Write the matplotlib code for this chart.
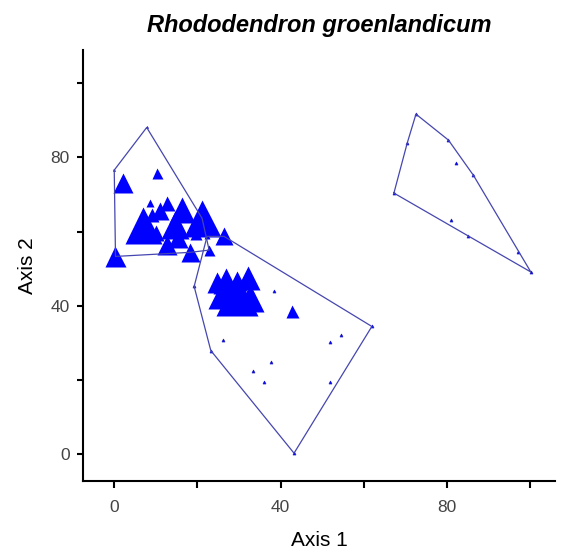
import matplotlib

matplotlib.use("Agg")
import matplotlib.pyplot as plt
import numpy as np

# ordination scores (Axis 1, Axis 2) and abundance per plot, by group
upper_x = [7.8, 0.0, 2.1, 10.3, 8.6, 6.9, 0.3, 12.7, 16.3, 21.1, 14.6, 12.7,
           18.2, 10.0, 22.8, 19.6, 15.3, 9.1, 11.0]
upper_y = [88.1, 76.6, 73.1, 75.7, 67.6, 61.9, 53.3, 67.6, 65.8, 63.6, 61.7, 56.3,
           54.4, 59.5, 55.0, 59.3, 58.2, 64.4, 65.5]
upper_ab = [2, 2, 20, 11, 8, 37, 21, 15, 27, 37, 28, 20,
            19, 16, 11, 12, 20, 14, 18]

middle_x = [19.2, 22.3, 26.4, 23.2, 43.2, 61.9, 38.5, 26.2, 33.4, 37.6, 36.1,
            51.9, 54.5, 51.9, 42.6, 24.6, 26.9, 29.6, 32.1, 29.5, 25.9, 32.6]
middle_y = [45.2, 58.7, 58.7, 27.9, 0.2, 34.4, 44.1, 30.8, 22.5, 24.8, 19.4,
            30.2, 32.2, 19.4, 38.6, 46.3, 46.6, 46.6, 47.4, 42.8, 42.8, 42.0]
middle_ab = [3, 6, 18, 3, 3, 3, 3, 3, 3, 3, 3,
             3, 3, 3, 13, 21, 26, 20, 24, 42, 28, 28]

right_x = [72.5, 80.3, 86.3, 97.1, 100.1, 67.2, 70.4, 82.1, 80.9, 85.1]
right_y = [91.7, 84.7, 75.2, 54.5, 49.1, 70.4, 83.9, 78.5, 63.0, 58.8]
right_ab = [3, 3, 3, 3, 3, 3, 3, 3, 3, 3]

groups = [
    (upper_x, upper_y, upper_ab),
    (middle_x, middle_y, middle_ab),
    (right_x, right_y, right_ab),
]


def convex_hull(pts):
    pts = sorted(set(pts))

    def cross(o, a, b):
        return (a[0] - o[0]) * (b[1] - o[1]) - (a[1] - o[1]) * (b[0] - o[0])

    lower, upper = [], []
    for p in pts:
        while len(lower) >= 2 and cross(lower[-2], lower[-1], p) <= 0:
            lower.pop()
        lower.append(p)
    for p in reversed(pts):
        while len(upper) >= 2 and cross(upper[-2], upper[-1], p) <= 0:
            upper.pop()
        upper.append(p)
    return lower[:-1] + upper[:-1]


dpi = 100
fig = plt.figure(figsize=(5.61, 5.57), dpi=dpi)
ax = fig.add_axes([0.148, 0.1365, 0.842, 0.773])
plt.rcParams["font.family"] = ["Liberation Sans", "DejaVu Sans"]

px_to_pt = 72 / dpi
for gx, gy, ab in groups:
    hull = convex_hull(list(zip(gx, gy)))
    hull.append(hull[0])
    hx, hy = zip(*hull)
    ax.plot(hx, hy, color="#4646b0", lw=0.9, zorder=3)
    # biggest first so small ones stay visible
    order = np.argsort(ab)[::-1]
    for i in order:
        ax.plot(gx[i], gy[i], marker="^", ms=ab[i] * px_to_pt, color="#0000ff",
                mec="none" if ab[i] > 4 else "#2020c0", mew=0.5, ls="none", zorder=2)

ax.set_xlim(-7.5, 106)
ax.set_ylim(-7.3, 108.9)
ax.set_xticks(np.arange(0, 101, 20))
ax.set_xticklabels(["0", "", "40", "", "80", ""])
ax.set_yticks(np.arange(0, 101, 20))
ax.set_yticklabels(["0", "", "40", "", "80", ""])
for s in ["top", "right"]:
    ax.spines[s].set_visible(False)
for s in ["left", "bottom"]:
    ax.spines[s].set_linewidth(1.5)
ax.tick_params(axis="x", length=5, width=1.5, pad=9, labelsize=12.5,
               labelcolor="#444444")
ax.tick_params(axis="y", length=4, width=1.5, pad=5.5, labelsize=12.5,
               labelcolor="#444444")

ax.set_xlabel("Axis 1", fontsize=15, labelpad=11, family=["Liberation Sans"])
ax.set_ylabel("Axis 2", fontsize=15, labelpad=10, family=["Liberation Sans"])
ax.set_title("Rhododendron groenlandicum", fontsize=17, fontweight="bold",
             fontstyle="italic", pad=13, family=["Liberation Sans"])
for lbl in ax.get_xticklabels() + ax.get_yticklabels():
    lbl.set_family(["Liberation Sans"])

fig.savefig("out.png", dpi=dpi)
